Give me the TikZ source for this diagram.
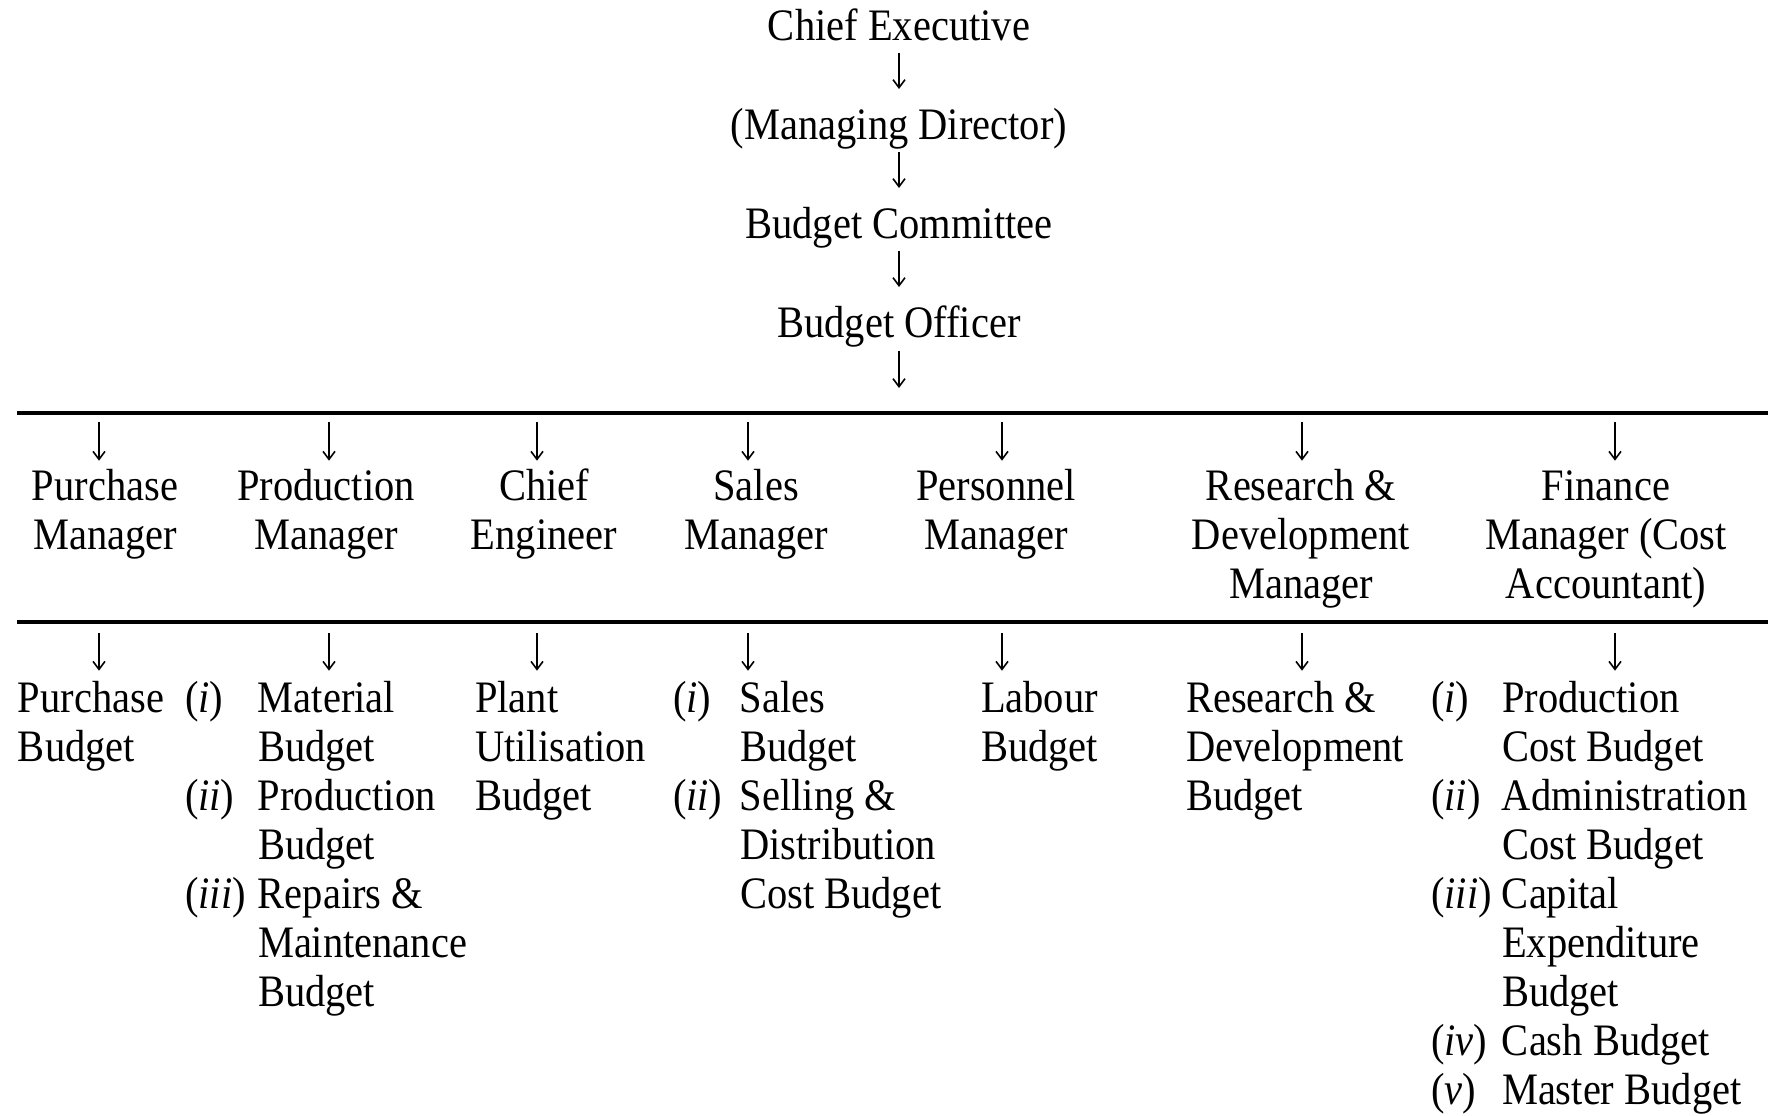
\documentclass[tikz,border=0pt]{standalone}
\usepackage{fontspec}
\setmainfont{Liberation Serif}[FakeStretch=0.9]
\usetikzlibrary{positioning}
\usetikzlibrary{arrows.meta}

\newcommand{\mgr}[1]{\begin{tabular}[t]{@{}c@{}}#1\end{tabular}}
\newcommand{\bgt}[1]{\begin{tabular}[t]{@{}l@{}}#1\end{tabular}}
\newcommand{\blist}[2][36.5pt]{\begin{tabular}[t]{@{}p{#1}@{}l@{}}#2\end{tabular}}

\begin{document}
\begin{tikzpicture}[x=0.5pt,y=-0.5pt]
\fontsize{22.5}{24.5}\selectfont

\tikzset{every node/.style={inner sep=0pt, outer sep=0pt},
	head/.style={anchor=base, text height=15pt, text depth=5pt},
	mgrbox/.style={anchor=base},
	bgtbox/.style={anchor=base west},
	arr/.style={-{Straight Barb[length=4pt,width=6pt]}, line width=0.8pt},
	rule/.style={line width=2pt}}

\useasboundingbox (0,0) rectangle (1768,1115);

\node[head] (chiefexec) at (899,40) {Chief Executive};
\node[head, below=29.5pt of chiefexec] (mandir) {(Managing Director)};
\node[head, below=29.5pt of mandir] (budcom) {Budget Committee};
\node[head, below=29.5pt of budcom] (budoff) {Budget Officer};

\coordinate (rule1w) at (17,413);
\coordinate (rule1e) at (1768,413);
\coordinate (rule2w) at (17,622);
\coordinate (rule2e) at (1768,622);

\node[mgrbox] (purmgr) at (105,500) {\mgr{Purchase\\Manager}};
\node[mgrbox] (prodmgr) at (326,500) {\mgr{Production\\Manager}};
\node[mgrbox] (chiefeng) at (544,500) {\mgr{Chief\\Engineer}};
\node[mgrbox] (salesmgr) at (756,500) {\mgr{Sales\\Manager}};
\node[mgrbox] (persmgr) at (996,500) {\mgr{Personnel\\Manager}};
\node[mgrbox] (rdmgr) at (1301,500) {\mgr{Research \&\\Development\\Manager}};
\node[mgrbox] (finmgr) at (1606,500) {\mgr{Finance\\Manager (Cost\\Accountant)}};

\node[bgtbox] (purbud) at (18,712) {\bgt{Purchase\\Budget}};
\node[bgtbox] (prodbud) at (185,712) {\blist{(\textit{i}) & Material\\ & Budget\\ (\textit{ii}) & Production\\ & Budget\\ (\textit{iii}) & Repairs \&\\ & Maintenance\\ & Budget}};
\node[bgtbox] (plantbud) at (475,712) {\bgt{Plant\\Utilisation\\Budget}};
\node[bgtbox] (salesbud) at (673,712) {\blist[33.5pt]{(\textit{i}) & Sales\\ & Budget\\ (\textit{ii}) & Selling \&\\ & Distribution\\ & Cost Budget}};
\node[bgtbox] (labbud) at (981,712) {\bgt{Labour\\Budget}};
\node[bgtbox] (rdbud) at (1186,712) {\bgt{Research \&\\Development\\Budget}};
\node[bgtbox] (finbud) at (1431,712) {\blist[35.5pt]{(\textit{i}) & Production\\ & Cost Budget\\ (\textit{ii}) & Administration\\ & Cost Budget\\ (\textit{iii}) & Capital\\ & Expenditure\\ & Budget\\ (\textit{iv}) & Cash Budget\\ (\textit{v}) & Master Budget}};

\draw[rule] (rule1w) -- (rule1e)
	(rule2w) -- (rule2e);

\draw[arr, shorten <=1.5pt, shorten >=10pt] (chiefexec) -- (mandir);
\draw[arr, shorten <=1.5pt, shorten >=10pt] (mandir) -- (budcom);
\draw[arr, shorten <=1.5pt, shorten >=10pt] (budcom) -- (budoff);
\draw[arr, shorten <=2pt, shorten >=12.5pt] (budoff) -- (budoff |- rule1w);

\foreach \m/\b/\x in {purmgr/purbud/99, prodmgr/prodbud/329, chiefeng/plantbud/537, salesmgr/salesbud/748, persmgr/labbud/1002, rdmgr/rdbud/1302, finmgr/finbud/1615} {
	\coordinate (top-\m) at (\x,413);
	\coordinate (mid-\m) at (\x,622);
	\draw[arr, shorten <=4.5pt, shorten >=2.5pt] (top-\m) -- (top-\m |- \m.north);
	\draw[arr, shorten <=5.5pt, shorten >=3.5pt] (mid-\m) -- (mid-\m |- \b.north);
}
\end{tikzpicture}
\end{document}
